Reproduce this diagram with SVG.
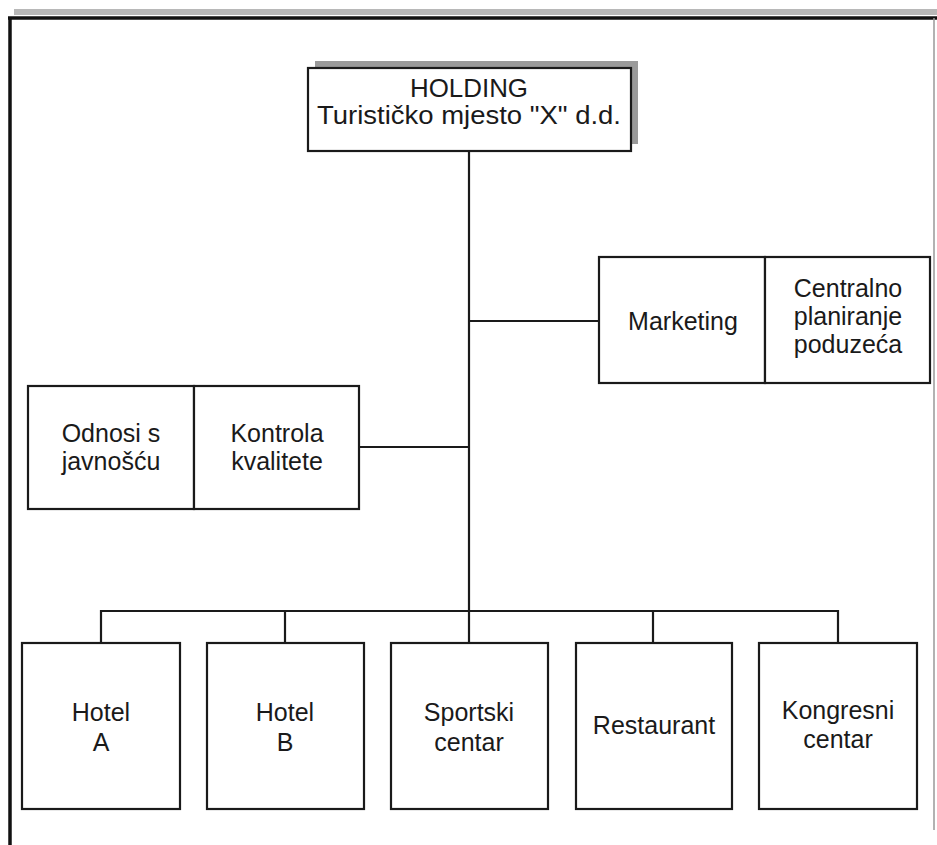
<svg xmlns="http://www.w3.org/2000/svg" width="937" height="845" viewBox="0 0 937 845">
<style>
.box{fill:#fff;stroke:#1a1a1a;stroke-width:2.2}
.ln{stroke:#1a1a1a;stroke-width:2.2;fill:none}
text{font-family:"Liberation Sans",Arial,sans-serif;font-size:25px;fill:#1a1a1a;text-anchor:middle}
</style>
<rect x="0" y="0" width="937" height="845" fill="#fff"/>
<g id="frame">
<rect x="14" y="9" width="923" height="6" fill="#b8b8b8"/>
<line x1="8" y1="18" x2="937" y2="18" stroke="#111" stroke-width="3.5"/>
<line x1="10" y1="17" x2="10" y2="845" stroke="#111" stroke-width="3.5"/>
<line x1="934" y1="18" x2="934" y2="830" stroke="#999" stroke-width="1.5"/>
</g>
<g id="connectors">
<line class="ln" x1="469" y1="151" x2="469" y2="611"/>
<line class="ln" x1="469" y1="321" x2="599" y2="321"/>
<line class="ln" x1="359" y1="447" x2="469" y2="447"/>
<polyline class="ln" points="101,643 101,611 838,611 838,643"/>
<line class="ln" x1="285" y1="611" x2="285" y2="643"/>
<line class="ln" x1="469" y1="611" x2="469" y2="643"/>
<line class="ln" x1="653" y1="611" x2="653" y2="643"/>
</g>
<g id="holding">
<rect x="315" y="61" width="323" height="83" fill="#9a9a9a"/>
<rect class="box" x="308" y="68" width="323" height="83"/>
<text x="469" y="97" textLength="118" lengthAdjust="spacingAndGlyphs">HOLDING</text>
<text x="469" y="124" textLength="304" lengthAdjust="spacingAndGlyphs">Turističko mjesto "X" d.d.</text>
</g>
<g id="marketing">
<rect class="box" x="599" y="257" width="166" height="126"/>
<text x="683" y="330">Marketing</text>
</g>
<g id="centralno">
<rect class="box" x="765" y="257" width="165" height="126"/>
<text x="848" y="297">Centralno</text>
<text x="848" y="325">planiranje</text>
<text x="848" y="353">poduzeća</text>
</g>
<g id="odnosi">
<rect class="box" x="28" y="386" width="166" height="123"/>
<text x="111" y="442">Odnosi s</text>
<text x="111" y="470">javnošću</text>
</g>
<g id="kontrola">
<rect class="box" x="194" y="386" width="165" height="123"/>
<text x="277" y="442">Kontrola</text>
<text x="277" y="470">kvalitete</text>
</g>
<g id="hotelA">
<rect class="box" x="22" y="643" width="158" height="166"/>
<text x="101" y="721">Hotel</text>
<text x="101" y="751">A</text>
</g>
<g id="hotelB">
<rect class="box" x="207" y="643" width="157" height="166"/>
<text x="285" y="721">Hotel</text>
<text x="285" y="751">B</text>
</g>
<g id="sportski">
<rect class="box" x="391" y="643" width="157" height="166"/>
<text x="469" y="721">Sportski</text>
<text x="469" y="751">centar</text>
</g>
<g id="restaurant">
<rect class="box" x="576" y="643" width="156" height="166"/>
<text x="654" y="734">Restaurant</text>
</g>
<g id="kongresni">
<rect class="box" x="759" y="643" width="158" height="166"/>
<text x="838" y="719">Kongresni</text>
<text x="838" y="748">centar</text>
</g>
</svg>
